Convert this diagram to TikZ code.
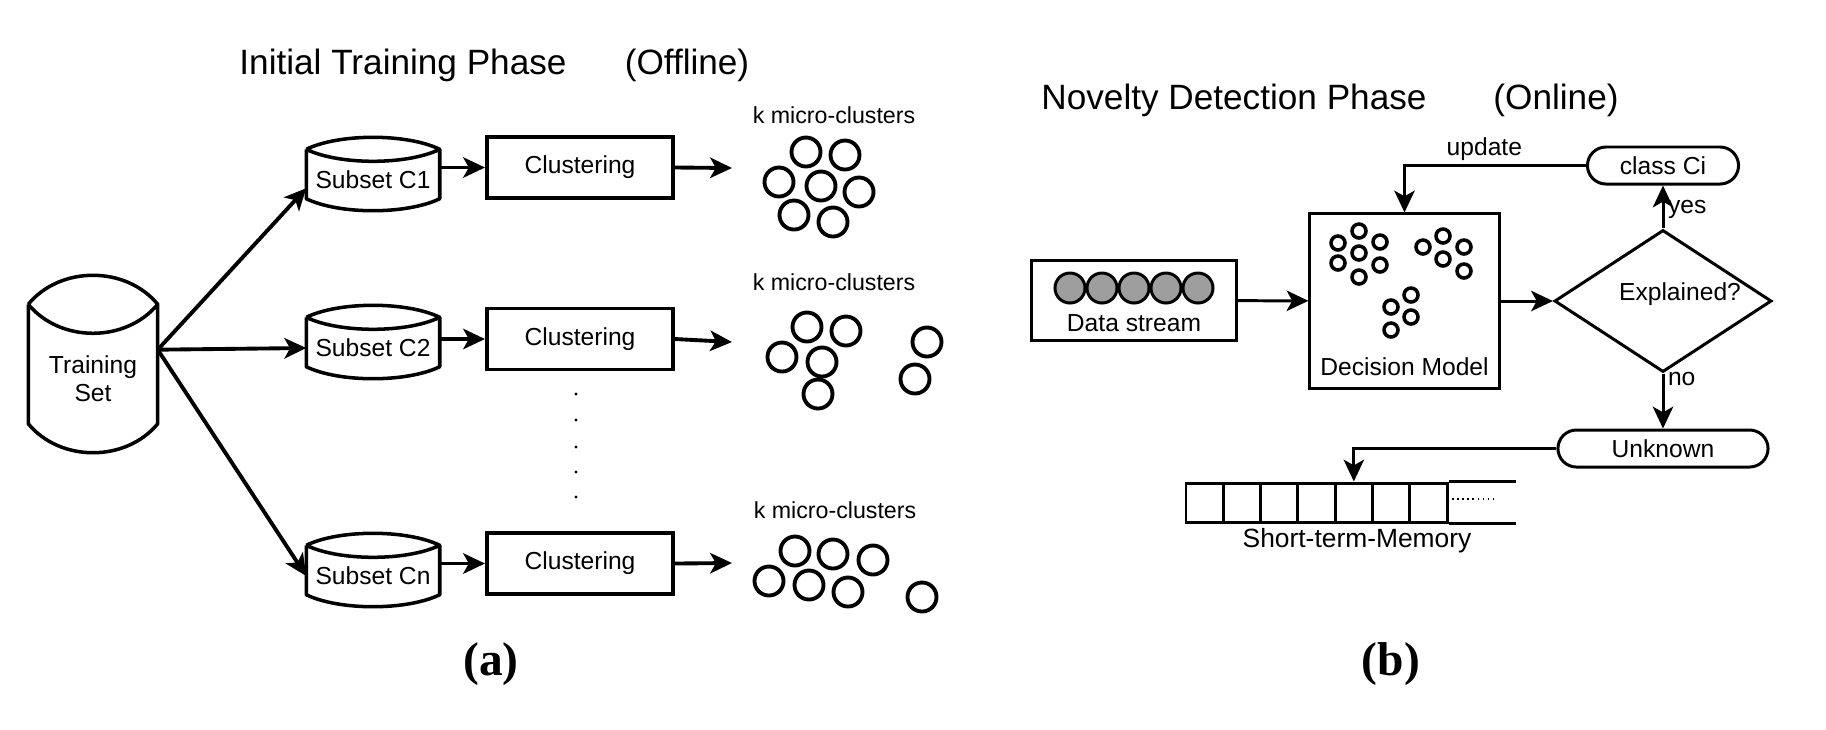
\documentclass[tikz,border=0pt]{standalone}
\usepackage{fontspec}
\setmainfont{Liberation Sans}
\newfontfamily\serifcap{Liberation Serif}
\usetikzlibrary{arrows.meta,shapes.geometric,calc,positioning}
\definecolor{streamgray}{RGB}{158,158,158}
\tikzset{
  every node/.style={font=\fontsize{7}{8}\selectfont, inner sep=1pt},
  thickline/.style={line width=1.1pt},
  thinline/.style={line width=0.85pt},
  drumline/.style={line width=1pt, line join=round},
  drumbody/.style={rectangle, inner sep=0pt, align=center},
  clusterbox/.style={draw, thickline, rectangle, minimum width=1.86cm, minimum height=0.61cm},
  modelbox/.style={draw, thinline, rectangle},
  pill/.style={draw, thinline, rectangle, rounded corners=0.185cm, minimum width=#1, minimum height=0.37cm},
  decision/.style={draw, thinline, diamond, minimum width=2.17cm, minimum height=1.42cm, inner sep=0pt},
  cell/.style={draw, thinline, rectangle, minimum width=0.373cm, minimum height=0.39cm, inner sep=0pt},
  heading/.style={font=\fontsize{10}{12}\selectfont},
  caption/.style={font=\serifcap\bfseries\fontsize{13.5}{16}\selectfont}
}

\begin{document}
\begin{tikzpicture}[x=0.01cm, y=-0.01cm, >={Stealth[length=6.2pt,width=5.8pt,inset=1.6pt]}]
  \useasboundingbox (0,0) rectangle (1826,729);

  % (a) offline part
  \node[heading] (titlea) at (403,65) {Initial Training Phase};
  \node[heading] (offline) at (687,65) {(Offline)};

  \node[drumbody, minimum width=1.28cm, minimum height=0.89cm] (train) at (93,378.5) {Training\\Set};
  \foreach \pos/\name/\lab in {(373,180)/c1/C1, (373,348)/c2/C2, (373,576)/cn/Cn}
    \node[drumbody, minimum width=1.32cm, minimum height=0.36cm] (\name) at \pos {Subset \lab};

  \foreach \n/\w/\d in {train/128/29, c1/132/12, c2/132/12, cn/132/12}
    \draw[drumline] ($(\n.north west)+(0,-\d)$) coordinate (tl) -- (\n.south west)
        .. controls +({\w/4},{4*\d/3}) and +({-\w/4},{4*\d/3}) .. (\n.south east)
        -- ($(\n.north east)+(0,-\d)$) coordinate (tr)
        .. controls +({-\w/4},{-4*\d/3}) and +({\w/4},{-4*\d/3}) .. (tl)
        (tl) .. controls +({\w/4},{4*\d/3}) and +({-\w/4},{4*\d/3}) .. (tr);

  \foreach \to in {c1.187, c2.west, cn.west}
    \draw[->, thickline] (train.24) -- (\to);

  \foreach \pos/\name in {(580,167.5)/clus1, (580,339)/clus2, (580,563.5)/clus3}
    \node[clusterbox] (\name) at \pos {Clustering};
  \foreach \pos/\name in {(732,168)/k1, (732,342)/k2, (732,563)/k3}
    \path \pos coordinate (\name);

  \foreach \from/\via/\to in {c1/clus1/k1, c2/clus2/k2, cn/clus3/k3} {
    \draw[->, thickline] (\from.east |- \via.west) -- (\via.west);
    \draw[->, thickline] (\via.east) -- (\to);
  }

  \foreach \pos/\name in {(834,115)/lab1, (834,282)/lab2, (835,510)/lab3}
    \node[font=\fontsize{6.6}{8}\selectfont] (\name) at \pos {k micro-clusters};

  \foreach \pos in {(806,152), (845,155), (779,182), (821,186), (859,192), (794,215), (833,222),
                    (807,327), (846,331), (782,357), (822,362), (818,394), (927,342), (915,379),
                    (795,551), (833,554), (873,560), (769,581), (809,585), (848,592), (922,597)}
    \draw[thickline] \pos circle[radius=0.145cm];

  \foreach \y in {394,420,447,472,497}
    \fill (576,\y) circle[radius=0.45pt];

  \node[caption] (capa) at (491,664) {(a)};

  % (b) online part
  \node[heading] (titleb) at (1234,100) {Novelty Detection Phase};
  \node[heading] (online) at (1556,100) {(Online)};

  \node[modelbox, minimum width=2.04cm, minimum height=0.79cm] (stream) at (1134,300.5) {};
  \node[anchor=base] (streamlbl) at ([yshift=2.8pt]stream.south) {Data stream};
  \foreach \x in {1070,1102,1134,1166,1198}
    \draw[thinline, fill=streamgray] (\x,288) circle[radius=0.15cm];

  \node[modelbox, minimum width=1.89cm, minimum height=1.74cm] (model) at (1404.5,301) {};
  \node[anchor=base] (modellbl) at ([yshift=4pt]model.south) {Decision Model};
  \foreach \pos in {(1359,231), (1338,243), (1380,242), (1359,253), (1338,263), (1380,265), (1359,277),
                    (1443,236), (1423,247), (1464,247), (1443,259), (1464,271),
                    (1411,295), (1391,307), (1411,317), (1391,330)}
    \draw[line width=1pt] \pos circle[radius=0.07cm];

  \node[decision] (expl) at (1663,301) {};
  \node (expllbl) at (1680,294) {Explained?};
  \node[pill=1.51cm] (ci) at (1663,165.5) {class Ci};
  \node[pill=2.10cm] (unknown) at (1663,448.5) {Unknown};

  \foreach \i in {1,...,7}
    \node[cell] (m\i) at ({1186+37.3*(\i-0.5)},502.5) {};
  \draw[thinline] (m7.north east) -- +(67,0) (m7.south east) -- +(67,0);
  \draw[line width=0.5pt, dash pattern=on 0.5pt off 0.95pt] (1452,499) -- (1494,499);
  \node[font=\fontsize{7.5}{9}\selectfont] (stmlbl) at (1357,541) {Short-term-Memory};

  \draw[->, thinline] (stream) -- (model);
  \draw[->, thinline] (model) -- (expl);
  \draw[->, thinline] (expl) -- node[right, pos=0.45] (yeslbl) {yes} (ci);
  \draw[->, thinline] (expl) -- node[right, pos=0.1] (nolbl) {no} (unknown);
  \draw[->, thinline] (ci) -| node[above, pos=0.28] (updlbl) {update} (model);
  \draw[->, thinline] (unknown) -| (m5);

  \node[caption] (capb) at (1391,664) {(b)};
\end{tikzpicture}
\end{document}
